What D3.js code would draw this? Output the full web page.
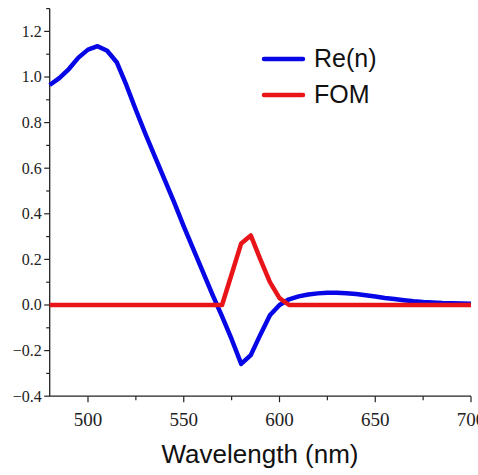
<!DOCTYPE html>
<html>
<head>
<meta charset="utf-8">
<script src="https://cdn.jsdelivr.net/npm/d3@7"></script>
<style>
  body { margin: 0; background: #fff; }
  svg { display: block; }
</style>
</head>
<body>
<svg width="478" height="475"></svg>
<script>
// wavelength (nm)
var wavelength = [480, 485, 490, 495, 500, 505, 510, 515, 520, 525, 530, 535, 540, 545, 550,
  555, 560, 565, 570, 575, 580, 585, 590, 595, 600, 605, 610, 615, 620, 625, 630, 635, 640,
  645, 650, 655, 660, 665, 670, 675, 680, 685, 690, 695, 700];

var reN = [0.965, 0.995, 1.035, 1.085, 1.12, 1.135, 1.115, 1.065, 0.965, 0.855, 0.75, 0.65,
  0.55, 0.45, 0.345, 0.245, 0.145, 0.045, -0.05, -0.15, -0.258, -0.22, -0.13, -0.045, 0.0,
  0.025, 0.038, 0.046, 0.051, 0.054, 0.054, 0.052, 0.048, 0.043, 0.037, 0.031, 0.026, 0.021,
  0.016, 0.013, 0.011, 0.009, 0.008, 0.007, 0.006];

var fom = [0, 0, 0, 0, 0, 0, 0, 0, 0, 0, 0, 0, 0, 0, 0, 0, 0, 0, 0, 0.135, 0.27, 0.305,
  0.2, 0.1, 0.03, 0, 0, 0, 0, 0, 0, 0, 0, 0, 0, 0, 0, 0, 0, 0, 0, 0, 0, 0, 0];

var xTicks = [500, 550, 600, 650, 700];
var yTicks = [-0.4, -0.2, 0.0, 0.2, 0.4, 0.6, 0.8, 1.0, 1.2];
var seriesNames = ["Re(n)", "FOM"];
var seriesColors = ["#0606e6", "#e81418"];

var svg = d3.select("svg");

var x = d3.scaleLinear().domain([480, 700]).range([49.7, 471]);
var y = d3.scaleLinear().domain([-0.4, 1.3]).range([396.2, 8.6]);

// axes
var xAxis = svg.append("g")
  .attr("transform", "translate(0," + y(-0.4) + ")");
xAxis.append("line")
  .attr("x1", x(480)).attr("x2", x(700))
  .attr("stroke", "#222").attr("stroke-width", 1.3);
xAxis.selectAll(".minor")
  .data(d3.range(525, 701, 50))
  .enter().append("line")
  .attr("x1", function (d) { return x(d); })
  .attr("x2", function (d) { return x(d); })
  .attr("y1", 0).attr("y2", 4)
  .attr("stroke", "#222").attr("stroke-width", 1.2);
xAxis.selectAll(".major")
  .data(xTicks)
  .enter().append("line")
  .attr("x1", function (d) { return x(d); })
  .attr("x2", function (d) { return x(d); })
  .attr("y1", 0).attr("y2", 6)
  .attr("stroke", "#222").attr("stroke-width", 1.2);
xAxis.selectAll("text")
  .data(xTicks)
  .enter().append("text")
  .attr("x", function (d) { return x(d); })
  .attr("y", 30)
  .attr("text-anchor", "middle")
  .style("font-family", "'Liberation Serif', 'Times New Roman', serif")
  .style("font-size", "19px")
  .attr("fill", "#222")
  .text(function (d) { return d; });

var yAxis = svg.append("g")
  .attr("transform", "translate(" + x(480) + ",0)");
yAxis.append("line")
  .attr("y1", y(-0.4)).attr("y2", y(1.3))
  .attr("stroke", "#222").attr("stroke-width", 1.3);
yAxis.selectAll(".minor")
  .data(d3.range(-0.3, 1.31, 0.2))
  .enter().append("line")
  .attr("y1", function (d) { return y(d); })
  .attr("y2", function (d) { return y(d); })
  .attr("x1", 0).attr("x2", -3.5)
  .attr("stroke", "#222").attr("stroke-width", 1.2);
yAxis.selectAll(".major")
  .data(yTicks)
  .enter().append("line")
  .attr("y1", function (d) { return y(d); })
  .attr("y2", function (d) { return y(d); })
  .attr("x1", 0).attr("x2", -5.5)
  .attr("stroke", "#222").attr("stroke-width", 1.2);
yAxis.selectAll("text")
  .data(yTicks)
  .enter().append("text")
  .attr("x", -8)
  .attr("y", function (d) { return y(d); })
  .attr("dy", "0.34em")
  .attr("text-anchor", "end")
  .style("font-family", "'Liberation Serif', 'Times New Roman', serif")
  .style("font-size", "16px")
  .attr("fill", "#222")
  .text(function (d) { return d3.format(".1f")(d); });

svg.append("text")
  .attr("x", 260)
  .attr("y", 463)
  .attr("text-anchor", "middle")
  .style("font-family", "'Liberation Sans', Arial, sans-serif")
  .style("font-size", "26px")
  .attr("fill", "#111")
  .text("Wavelength (nm)");

// lines
var line = d3.line()
  .x(function (d) { return x(d[0]); })
  .y(function (d) { return y(d[1]); });

var series = [reN, fom];
series.forEach(function (vals, i) {
  svg.append("path")
    .datum(d3.zip(wavelength, vals))
    .attr("fill", "none")
    .attr("stroke", seriesColors[i])
    .attr("stroke-width", 4.5)
    .attr("stroke-linejoin", "round")
    .attr("d", line);
});

// legend
var legend = svg.append("g");
seriesNames.forEach(function (name, i) {
  var ly = 59 + i * 36;
  legend.append("line")
    .attr("x1", 264).attr("x2", 303)
    .attr("y1", ly).attr("y2", ly)
    .attr("stroke", seriesColors[i])
    .attr("stroke-width", 4.5)
    .attr("stroke-linecap", "round");
  legend.append("text")
    .attr("x", 314)
    .attr("y", ly + 7.5)
    .style("font-family", "'Liberation Sans', Arial, sans-serif")
    .style("font-size", "25px")
    .attr("fill", "#111")
    .text(name);
});
</script>
</body>
</html>
